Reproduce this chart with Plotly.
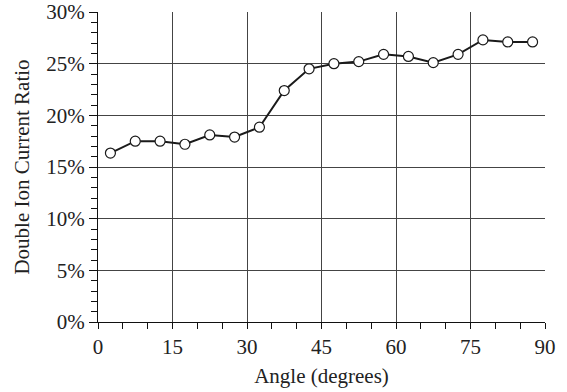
import plotly.graph_objects as go

angles = [2.5, 7.5, 12.5, 17.5, 22.5, 27.5, 32.5, 37.5, 42.5, 47.5, 52.5, 57.5, 62.5, 67.5, 72.5, 77.5, 82.5, 87.5]
ratio_pct = [16.35, 17.5, 17.5, 17.2, 18.1, 17.9, 18.85, 22.4, 24.5, 25.0, 25.2, 25.9, 25.7, 25.1, 25.9, 27.3, 27.1, 27.1]
x_ticks = [0, 15, 30, 45, 60, 75, 90]
y_ticks = [0, 5, 10, 15, 20, 25, 30]

font = "Liberation Serif, Times New Roman, serif"

fig = go.Figure()
fig.add_trace(go.Scatter(
    x=angles, y=ratio_pct, mode="lines+markers",
    line=dict(color="#1a1a1a", width=2),
    marker=dict(symbol="circle", size=10, color="white", line=dict(color="#1a1a1a", width=1.2)),
    showlegend=False,
))

fig.update_layout(
    width=567, height=392,
    margin=dict(l=98, r=22, t=12, b=70),
    paper_bgcolor="white", plot_bgcolor="white",
    font=dict(family=font, size=21, color="#222"),
    xaxis=dict(
        range=[0, 90], tickvals=x_ticks, ticktext=[str(v) for v in x_ticks],
        showgrid=True, gridcolor="#444", gridwidth=1,
        showline=True, linecolor="#111", linewidth=1,
        ticks="outside", ticklen=6, tickcolor="#111",
        minor=dict(dtick=5, ticks="outside", ticklen=6, tickcolor="#111", showgrid=False),
        title=dict(text="Angle (degrees)", standoff=10, font=dict(size=21)),
        zeroline=False, automargin=False,
    ),
    yaxis=dict(
        range=[0, 30], tickvals=y_ticks, ticktext=[f"{v}%" for v in y_ticks],
        showgrid=True, gridcolor="#444", gridwidth=1,
        showline=True, linecolor="#111", linewidth=1,
        ticks="outside", ticklen=8, tickcolor="#111",
        minor=dict(dtick=1, ticks="outside", ticklen=6, tickcolor="#111", showgrid=False),
        title=dict(text="Double Ion Current Ratio", standoff=10, font=dict(size=21)),
        zeroline=False, automargin=False,
    ),
)

fig.write_html("out.html")
